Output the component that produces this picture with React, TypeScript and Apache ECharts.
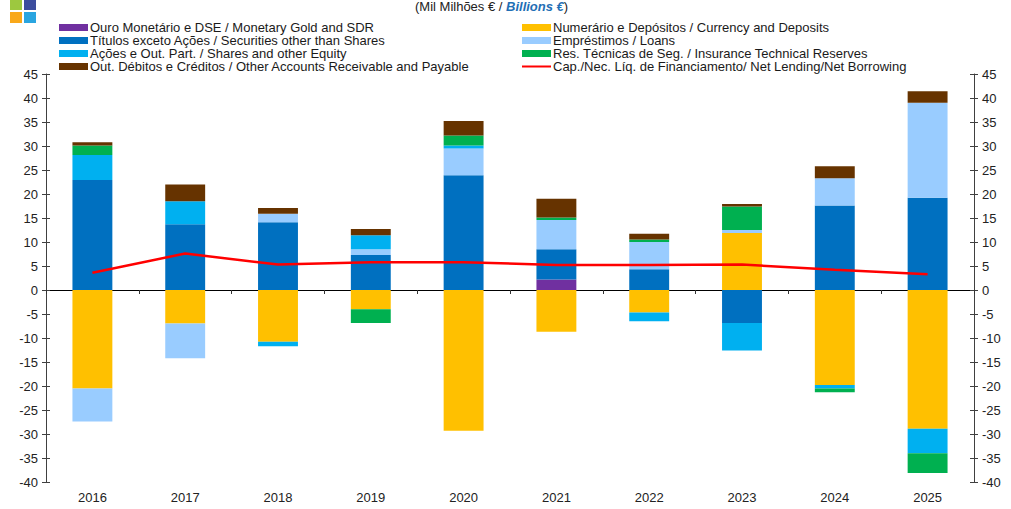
import React, { useEffect, useRef } from "react";
import * as echarts from "echarts";

const years = ["2016", "2017", "2018", "2019", "2020", "2021", "2022", "2023", "2024", "2025"];

const goldSdr = [0, 0, 0, 0, 0, 2.2, 0, 0, 0, 0];
const securities = [22.9, 13.7, 14.1, 7.3, 23.9, 6.3, 4.3, -6.9, 17.6, 19.2];
const currency = [-20.5, -7.0, -10.8, -4.0, -29.3, -8.7, -4.7, 11.9, -19.8, -28.9];
const loans = [-6.9, -7.2, 1.8, 1.2, 5.6, 6.1, 5.7, 0.6, 5.7, 19.8];
const shares = [5.2, 4.8, -0.9, 2.9, 0.6, 0, -1.8, -5.7, -0.7, -5.1];
const insurance = [2.0, 0, 0, -2.9, 2.1, 0.5, 0.5, 4.9, -0.8, -4.1];
const otherAccounts = [0.7, 3.5, 1.2, 1.3, 3.0, 3.9, 1.2, 0.5, 2.5, 2.4];
const netLending = [3.6, 7.6, 5.3, 5.8, 5.8, 5.2, 5.2, 5.3, 4.2, 3.3];

const names = {
  gold: "Ouro Monetário e DSE / Monetary Gold and SDR",
  sec: "Títulos exceto Ações / Securities other than Shares",
  shares: "Ações e Out. Part. / Shares and other Equity",
  other: "Out. Débitos e Créditos / Other Accounts Receivable and Payable",
  cur: "Numerário e Depósitos / Currency and Deposits",
  loans: "Empréstimos / Loans",
  ins: "Res. Técnicas de Seg. / Insurance Technical Reserves",
  net: "Cap./Nec. Líq. de Financiamento/ Net Lending/Net Borrowing",
};

const FONT = "'Liberation Sans', Arial, sans-serif";

export default function App() {
  const ref = useRef<HTMLDivElement>(null);
  useEffect(() => {
    if (!ref.current) return;
    const chart = echarts.init(ref.current, undefined, { renderer: "svg" });
    const bar = (name: string, data: number[], color: string) => ({
      name,
      type: "bar",
      stack: "total",
      data,
      barWidth: "43%",
      xAxisIndex: 0,
      yAxisIndex: 0,
      itemStyle: { color },
    });
    const legendCommon = {
      orient: "vertical",
      top: 21,
      itemWidth: 29,
      itemHeight: 7,
      itemGap: 0,
      padding: 0,
      selectedMode: false,
      textStyle: { fontFamily: FONT, fontSize: 13, lineHeight: 13, color: "#1a1a1a", padding: [0, 0, 0, -3] },
    };
    const yBase = {
      type: "value",
      min: -40,
      max: 45,
      interval: 5,
      splitLine: { show: false },
    };
    chart.setOption({
      animation: false,
      textStyle: { fontFamily: FONT },
      title: {
        left: 415,
        top: 0,
        padding: 0,
        text: "{a|(Mil Milhões € / }{b|Billions €}{a|)}",
        textStyle: {
          fontWeight: "normal",
          rich: {
            a: { fontFamily: FONT, fontSize: 13, color: "#222", fontWeight: "normal" },
            b: { fontFamily: FONT, fontSize: 13, color: "#1F6FB5", fontWeight: "bold", fontStyle: "italic" },
          },
        },
      },
      graphic: [
        { type: "rect", shape: { x: 10, y: -2, width: 12, height: 12 }, style: { fill: "#9DC83F" } },
        { type: "rect", shape: { x: 24, y: -2, width: 12, height: 12 }, style: { fill: "#3C4D9E" } },
        { type: "rect", shape: { x: 10, y: 12, width: 12, height: 11 }, style: { fill: "#F9A81A" } },
        { type: "rect", shape: { x: 24, y: 12, width: 12, height: 11 }, style: { fill: "#2AA5E0" } },
      ],
      legend: [
        {
          ...legendCommon,
          left: 59,
          data: [
            { name: names.gold, icon: "rect" },
            { name: names.sec, icon: "rect" },
            { name: names.shares, icon: "rect" },
            { name: names.other, icon: "rect" },
          ],
        },
        {
          ...legendCommon,
          left: 521,
          data: [
            { name: names.cur, icon: "rect" },
            { name: names.loans, icon: "rect" },
            { name: names.ins, icon: "rect" },
            { name: names.net, itemStyle: { opacity: 0 } },
          ],
        },
      ],
      grid: { left: 46, right: 37, top: 74, bottom: 27, containLabel: false },
      xAxis: [
        {
          type: "category",
          data: years,
          position: "bottom",
          axisLine: { show: false, onZero: false },
          axisTick: { show: false },
          axisLabel: { fontFamily: FONT, fontSize: 13, color: "#222", margin: 9 },
        },
        {
          type: "category",
          data: years,
          position: "bottom",
          axisLine: { show: true, onZero: true, lineStyle: { color: "#000", width: 1 } },
          axisTick: { show: true, length: 4, alignWithLabel: false, lineStyle: { color: "#333" } },
          axisLabel: { show: false },
        },
      ],
      yAxis: [
        {
          ...yBase,
          position: "left",
          axisLine: { show: true, lineStyle: { color: "#404040" } },
          axisTick: { show: true, length: 4, lineStyle: { color: "#404040" } },
          axisLabel: { fontFamily: FONT, fontSize: 13, color: "#222", margin: 8 },
        },
        {
          ...yBase,
          position: "right",
          axisLine: { show: true, lineStyle: { color: "#404040" } },
          axisTick: { show: true, length: 4, lineStyle: { color: "#404040" } },
          axisLabel: { fontFamily: FONT, fontSize: 13, color: "#222", margin: 8 },
        },
        {
          ...yBase,
          position: "left",
          axisLine: { show: false },
          axisTick: { show: true, inside: true, length: 4, lineStyle: { color: "#404040" } },
          axisLabel: { show: false },
        },
        {
          ...yBase,
          position: "right",
          axisLine: { show: false },
          axisTick: { show: true, inside: true, length: 4, lineStyle: { color: "#404040" } },
          axisLabel: { show: false },
        },
      ],
      series: [
        bar(names.gold, goldSdr, "#7030A0"),
        bar(names.sec, securities, "#0070C0"),
        bar(names.cur, currency, "#FFC000"),
        bar(names.loans, loans, "#99CCFF"),
        bar(names.shares, shares, "#00B0F0"),
        bar(names.ins, insurance, "#00B050"),
        bar(names.other, otherAccounts, "#663300"),
        {
          name: names.net,
          type: "line",
          data: netLending,
          xAxisIndex: 0,
          yAxisIndex: 0,
          symbol: "none",
          lineStyle: { color: "#FF0000", width: 2.5 },
          itemStyle: { color: "#FF0000" },
          z: 5,
        },
      ],
    });
    return () => chart.dispose();
  }, []);
  return (
    <div
      ref={ref}
      style={{ position: "absolute", left: 0, top: 0, width: 1011, height: 509, background: "#fff" }}
    />
  );
}
